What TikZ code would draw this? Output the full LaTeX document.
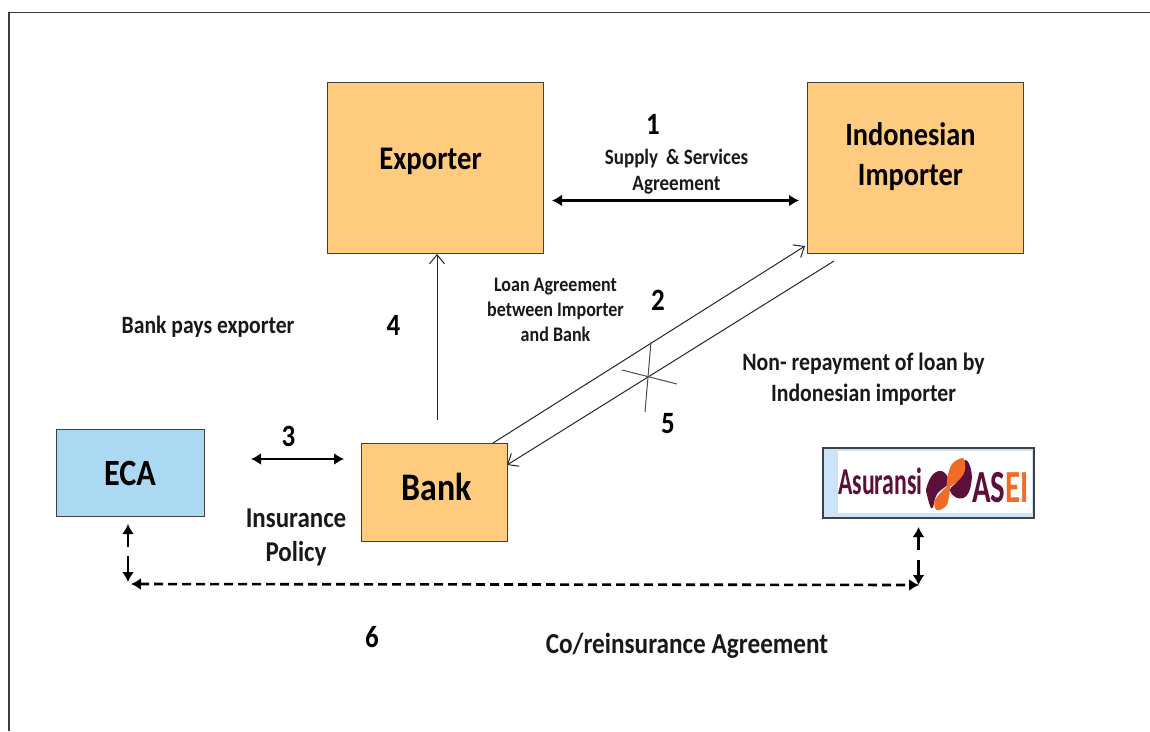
\documentclass[tikz,border=0pt]{standalone}
\usepackage{fontspec}
\setmainfont[FakeStretch=0.87]{Carlito}
\usetikzlibrary{arrows.meta}
\definecolor{boxorange}{HTML}{FFCB7E}
\definecolor{boxblue}{HTML}{ABD9F2}
\definecolor{logoblue}{HTML}{CCE4FB}
\definecolor{maroon}{HTML}{5C0F38}
\definecolor{logoorange}{HTML}{F26B26}
\definecolor{framegrey}{HTML}{3C3C3C}
\newcommand{\fsz}[2]{\bfseries\fontsize{#1}{#2}\selectfont}
\tikzset{
  x=1pt,y=-1pt,
  orangebox/.style={draw=black!75,line width=1pt,fill=boxorange,inner sep=0pt,align=center},
  bluebox/.style={draw=black!75,line width=1pt,fill=boxblue,inner sep=0pt,align=center},
  lab/.style={inner sep=0pt,align=center,text=black!90},
  num/.style={inner sep=0pt,font=\fsz{31}{34}},
  thinarrow/.style={draw=black!85,line width=1pt,-{Straight Barb[length=9pt,width=15pt,line width=1pt]}},
  thickdouble/.style={line width=2.6pt,{Latex[length=10pt,width=12pt]}-{Latex[length=10pt,width=12pt]}},
  thicksingle/.style={line width=2.6pt,-{Latex[length=10pt,width=12pt]}},
  crossline/.style={draw=black!70,line width=1pt},
}
\begin{document}
\begin{tikzpicture}
\useasboundingbox (0,0) rectangle (1150,731);
% frame
\coordinate (fbl) at (9,731);
\coordinate (ftl) at (9,12.5);
\coordinate (ftr) at (1150,12.5);
\draw[framegrey,line width=1.6pt] (fbl) -- (ftl) -- (ftr);
% boxes
\node[orangebox,font=\fsz{33}{40},minimum width=216pt,minimum height=171pt] (exp) at (435.5,168) {\raisebox{19pt}{Exporter\hspace*{10pt}}};
\node[orangebox,font=\fsz{32.6}{40},minimum width=216pt,minimum height=171pt] (imp) at (915.5,168) {\raisebox{55pt}{\begin{tabular}{@{}c@{}}Indonesian\\Importer\end{tabular}\hspace*{10pt}}};
\node[orangebox,font=\fsz{39}{44},minimum width=146pt,minimum height=98pt] (bank) at (434,492) {\raisebox{10pt}{\hspace*{6pt}Bank}};
\node[bluebox,font=\fsz{37}{44},minimum width=148pt,minimum height=87pt] (eca) at (130,473) {ECA};
% logo
\node[draw=black!75,line width=1.2pt,fill=logoblue,minimum width=211pt,minimum height=70pt,inner sep=0pt] (asei) at (928.5,483) {};
\fill[white] (838,451) rectangle (1032,513);
\node[inner sep=0pt,anchor=west,text=maroon] (asu) at (838,481) {\scalebox{0.72}[1]{\fsz{38}{40}Asuransi}};
\node[inner sep=0pt,anchor=west] (ase) at (972,488) {\scalebox{0.77}[1]{\fsz{46}{48}\textcolor{maroon}{AS}\textcolor{logoorange}{EI}}};
\fill[maroon] plot[smooth cycle,tension=0.7] coordinates {(926.7,487) (933.3,474) (943.3,471.7) (948.3,483) (937,494) (932,508.5) (927,495)};
\fill[maroon] plot[smooth cycle,tension=0.7] coordinates {(965,460) (971.7,473.3) (968.3,493.3) (958.3,498.3) (950,490) (958,480)};
\fill[logoorange] plot[smooth cycle,tension=0.6] coordinates {(963.3,458.3) (953,463) (948.3,473.3) (946.7,486.7) (950,486.7) (960,479) (965,470)};
\fill[logoorange] plot[smooth cycle,tension=0.6] coordinates {(946.7,486.7) (935,500) (936.7,510) (946.7,505) (950,487)};
% labels
\node[num] (n1) at (653,124) {1};
\node[lab,font=\fsz{21.9}{26}] (l1) at (676.5,172) {Supply\, \& Services\\Agreement};
\node[lab,font=\fsz{20.7}{25}] (l2) at (555.5,310) {Loan Agreement\\between Importer\\and Bank};
\node[num] (n2) at (658,300) {2};
\node[lab,font=\fsz{24.9}{28}] (l4) at (208,326.5) {Bank pays exporter};
\node[num] (n4) at (393.5,325) {4};
\node[lab,font=\fsz{25}{31}] (l5) at (863.5,379) {Non- repayment of loan by\\Indonesian importer};
\node[num] (n5) at (668,424) {5};
\node[num] (n3) at (288.5,436) {3};
\node[lab,font=\fsz{28.7}{34}] (l3) at (296,537) {Insurance\\Policy};
\node[num] (n6) at (372,637) {6};
\node[lab,font=\fsz{29}{34}] (l6) at (687,646) {Co/reinsurance Agreement};
% connectors
\coordinate (a1s) at (552,200.5);
\coordinate (a1e) at (799,200.5);
\draw[thickdouble] (a1s) -- (a1e);
\coordinate (a4s) at (437,420);
\draw[thinarrow] (a4s) -- (exp.south -| a4s);
\coordinate (a2s) at (493,443);
\coordinate (a2e) at (805,246);
\draw[thinarrow] (a2s) -- (a2e);
\coordinate (a5s) at (834,261);
\coordinate (a5e) at (507,465);
\draw[thinarrow] (a5s) -- (a5e);
\coordinate (c1a) at (651,342);
\coordinate (c1b) at (645,412);
\coordinate (c2a) at (622,370);
\coordinate (c2b) at (677,384);
\draw[crossline] (c1a) -- (c1b);
\draw[crossline] (c2a) -- (c2b);
\coordinate (a3s) at (251,459);
\coordinate (a3e) at (344,459);
\draw[thickdouble] (a3s) -- (a3e);
\coordinate (dl) at (131,584);
\coordinate (dr) at (919,585);
\draw[thickdouble,dash pattern=on 9pt off 5pt] (dl) -- (dr);
\coordinate (e1) at (128,524);
\coordinate (e1b) at (128,547);
\coordinate (e2) at (128,556);
\coordinate (e2b) at (128,582);
\draw[thicksingle] (e1b) -- (e1);
\draw[thicksingle] (e2) -- (e2b);
\coordinate (s1) at (918.5,527);
\coordinate (s1b) at (918.5,550);
\coordinate (s2) at (918.5,560);
\coordinate (s2b) at (918.5,585);
\draw[thicksingle] (s1b) -- (s1);
\draw[thicksingle] (s2) -- (s2b);
\end{tikzpicture}
\end{document}
